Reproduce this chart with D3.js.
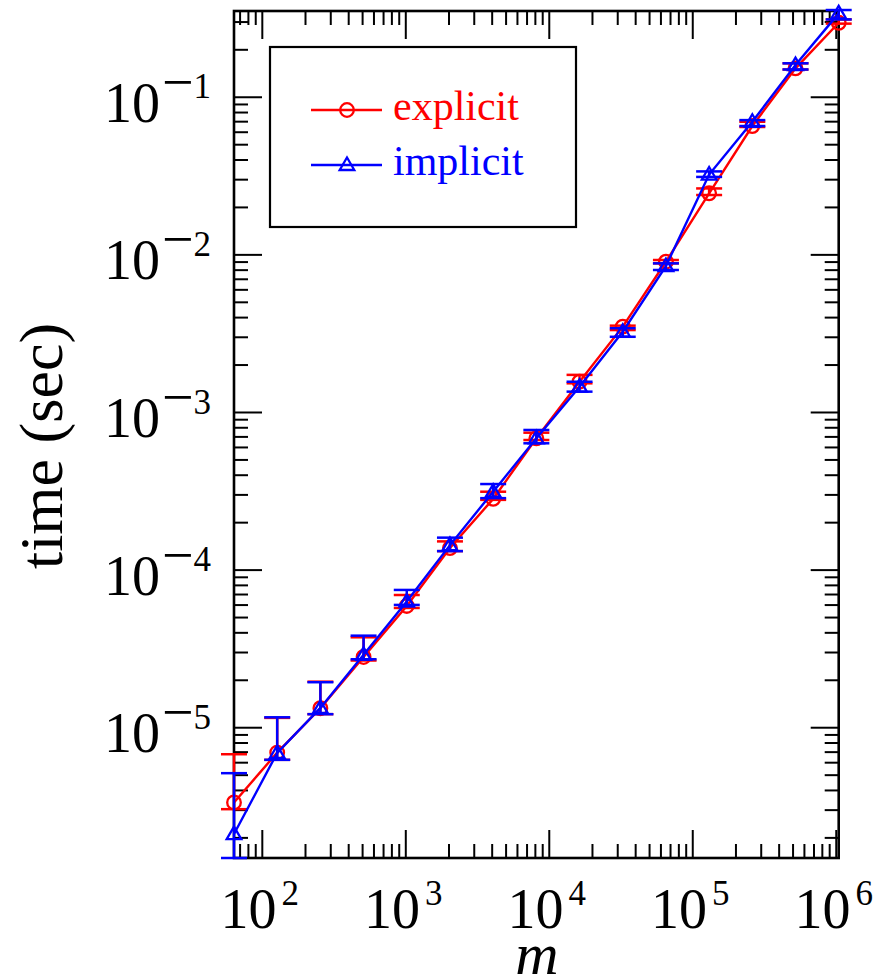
<!DOCTYPE html>
<html>
<head>
<meta charset="utf-8">
<script src="https://cdn.jsdelivr.net/npm/d3@7"></script>
<style>
    body { margin: 0; background: #fff; }
    text { font-family: "Liberation Serif", "Times New Roman", serif; }
</style>
</head>
<body>
<div id="vis"></div>
<script>
// problem size m (x axis)
const mValues = [64, 128, 256, 512, 1024, 2048, 4096, 8192, 16384, 32768, 65536, 131072, 262144, 524288, 1048576];

// explicit: time (sec), with lower / upper error bar ends
const explicitTime = [3.33e-6, 6.90e-6, 1.32e-5, 2.79e-5, 5.88e-5, 1.37e-4, 2.81e-4, 6.81e-4, 1.556e-3, 3.48e-3, 8.98e-3, 0.0244, 0.0652, 0.1514, 0.2946];
const explicitLow = [3.02e-6, 6.21e-6, 1.21e-5, 2.65e-5, 5.71e-5, 1.31e-4, 2.77e-4, 6.64e-4, 1.52e-3, 3.31e-3, 8.77e-3, 0.0238, 0.0643, 0.1489, 0.291];
const explicitHigh = [6.74e-6, 1.146e-5, 1.945e-5, 3.72e-5, 6.90e-5, 1.51e-4, 3.12e-4, 7.39e-4, 1.72e-3, 3.53e-3, 9.21e-3, 0.0262, 0.0694, 0.163, 0.3095];

// implicit
const implicitTime = [2.10e-6, 6.87e-6, 1.325e-5, 2.88e-5, 6.27e-5, 1.43e-4, 3.12e-4, 6.81e-4, 1.447e-3, 3.23e-3, 8.43e-3, 0.0321, 0.0694, 0.159, 0.338];
const implicitLow = [1.48e-6, 6.21e-6, 1.21e-5, 2.70e-5, 5.97e-5, 1.31e-4, 2.84e-4, 6.33e-4, 1.346e-3, 3.0e-3, 7.96e-3, 0.031, 0.0652, 0.1489, 0.3095];
const implicitHigh = [5.11e-6, 1.156e-5, 1.93e-5, 3.81e-5, 7.43e-5, 1.595e-4, 3.49e-4, 7.69e-4, 1.556e-3, 3.40e-3, 8.77e-3, 0.0336, 0.0711, 0.163, 0.355];

// tick labels (powers of ten)
const xTickExponents = [2, 3, 4, 5, 6];
const yTickExponents = [-1, -2, -3, -4, -5];

const seriesNames = ["explicit", "implicit"];

function timingChart() {
    let width = 879;
    let height = 980;

    var svg = d3.select("#vis")
        .append("svg")
        .attr("width", width)
        .attr("height", height);

    var x = d3.scaleLog().domain([64, 1048576]).range([234, 838.7]);
    var y = d3.scaleLog().domain([1.48e-6, 0.35]).range([858, 11]);

    var isMajor = function (t) {
        var l = Math.log10(t);
        return Math.abs(l - Math.round(l)) < 1e-9;
    };
    var inside = function (s) {
        return function (t) {
            var d = s.domain();
            return t >= d[0] * 0.999 && t <= d[1] * 1.001;
        };
    };
    var xAll = x.ticks().filter(inside(x));
    var yAll = y.ticks().filter(inside(y));
    var xMajor = xAll.filter(isMajor), xMinor = xAll.filter(t => !isMajor(t));
    var yMajor = yAll.filter(isMajor), yMinor = yAll.filter(t => !isMajor(t));

    // inward ticks on all four sides
    function tickAxis(axis, values, size, tx, ty) {
        var g = svg.append("g")
            .attr("transform", "translate(" + tx + "," + ty + ")")
            .call(axis.tickValues(values).tickSize(size).tickFormat(""));
        g.select(".domain").remove();
        g.selectAll(".tick line").attr("stroke", "#000").attr("stroke-width", 2);
    }
    tickAxis(d3.axisBottom(x), xMajor, -28, 0, 858);
    tickAxis(d3.axisBottom(x), xMinor, -14, 0, 858);
    tickAxis(d3.axisTop(x), xMajor, -28, 0, 11);
    tickAxis(d3.axisTop(x), xMinor, -14, 0, 11);
    tickAxis(d3.axisLeft(y), yMajor, -28, 234, 0);
    tickAxis(d3.axisLeft(y), yMinor, -14, 234, 0);
    tickAxis(d3.axisRight(y), yMajor, -28, 838.7, 0);
    tickAxis(d3.axisRight(y), yMinor, -14, 838.7, 0);

    svg.append("rect")
        .attr("x", 234).attr("y", 11)
        .attr("width", 838.7 - 234).attr("height", 858 - 11)
        .attr("fill", "none").attr("stroke", "#000").attr("stroke-width", 2.6);

    // 10^n labels built from text pieces
    function powerLabel(px, py, exponent, align) {
        var g = svg.append("g").attr("transform", "translate(" + px + "," + py + ")");
        var inner = g.append("g");
        var base = inner.append("text").attr("font-size", 56).text("10");
        var cursor = base.node().getComputedTextLength();
        if (exponent < 0) {
            cursor += 2;
            var minus = inner.append("text").attr("x", cursor).attr("y", -21)
                .attr("font-size", 56).text("\u2212");
            cursor += minus.node().getComputedTextLength();
        } else {
            cursor += 5;
        }
        var sup = inner.append("text").attr("x", cursor).attr("y", -23.3)
            .attr("font-size", 35).text(Math.abs(exponent));
        cursor += sup.node().getComputedTextLength();
        var shift = align === "end" ? -cursor : -cursor / 2 - 2;
        inner.attr("transform", "translate(" + shift + ",0)");
    }
    xTickExponents.forEach(function (e) {
        powerLabel(x(Math.pow(10, e)), 928.3, e, "middle");
    });
    yTickExponents.forEach(function (e) {
        powerLabel(211, y(Math.pow(10, e)) + 25, e, "end");
    });

    // axis titles
    svg.append("text")
        .attr("x", 537).attr("y", 974)
        .attr("text-anchor", "middle")
        .attr("font-size", 60)
        .attr("font-style", "italic")
        .text("m");
    svg.append("text")
        .attr("transform", "translate(61.5,446) rotate(-90)")
        .attr("text-anchor", "middle")
        .attr("font-size", 62)
        .text("time (sec)");

    var series = [
        {name: seriesNames[0], color: "#ff0000", marker: "circle", time: explicitTime, low: explicitLow, high: explicitHigh},
        {name: seriesNames[1], color: "#0000ff", marker: "triangle", time: implicitTime, low: implicitLow, high: implicitHigh}
    ];

    function drawMarker(g, kind, cx, cy, color) {
        if (kind === "circle") {
            g.append("circle")
                .attr("cx", cx).attr("cy", cy).attr("r", 6.8)
                .attr("fill", "none").attr("stroke", color).attr("stroke-width", 2.3);
        } else {
            g.append("path")
                .attr("transform", "translate(" + cx + "," + cy + ")")
                .attr("d", "M0,-7.5L7.3,5L-7.3,5Z")
                .attr("fill", "none").attr("stroke", color).attr("stroke-width", 2.3);
        }
    }

    var line = d3.line()
        .x(function (d) { return x(d.m); })
        .y(function (d) { return y(d.t); });

    series.forEach(function (s) {
        var pts = mValues.map(function (m, i) {
            return {m: m, t: s.time[i], lo: s.low[i], hi: s.high[i]};
        });
        var g = svg.append("g");
        g.append("path")
            .datum(pts)
            .attr("d", line)
            .attr("fill", "none")
            .attr("stroke", s.color)
            .attr("stroke-width", 2.4);

        var bars = g.selectAll(".bar")
            .data(pts)
            .enter().append("g");
        bars.append("line")
            .attr("x1", d => x(d.m)).attr("x2", d => x(d.m))
            .attr("y1", d => y(d.lo)).attr("y2", d => y(d.hi));
        bars.append("line")
            .attr("x1", d => x(d.m) - 13).attr("x2", d => x(d.m) + 13)
            .attr("y1", d => y(d.lo)).attr("y2", d => y(d.lo));
        bars.append("line")
            .attr("x1", d => x(d.m) - 13).attr("x2", d => x(d.m) + 13)
            .attr("y1", d => y(d.hi)).attr("y2", d => y(d.hi));
        bars.selectAll("line").attr("stroke", s.color).attr("stroke-width", 2.5);

        pts.forEach(function (d) {
            drawMarker(g, s.marker, x(d.m), y(d.t), s.color);
        });
    });

    // legend
    var legend = svg.append("g");
    legend.append("rect")
        .attr("x", 270).attr("y", 47)
        .attr("width", 306).attr("height", 180)
        .attr("fill", "#fff").attr("stroke", "#000").attr("stroke-width", 2.2);
    series.forEach(function (s, i) {
        var ly = 110 + i * 55;
        legend.append("line")
            .attr("x1", 311).attr("x2", 382)
            .attr("y1", ly).attr("y2", ly)
            .attr("stroke", s.color).attr("stroke-width", 2.4);
        drawMarker(legend, s.marker, 347, ly, s.color);
        legend.append("text")
            .attr("x", 393).attr("y", ly + 10)
            .attr("font-size", 42)
            .attr("fill", s.color)
            .text(s.name);
    });
}

timingChart();
</script>
</body>
</html>
